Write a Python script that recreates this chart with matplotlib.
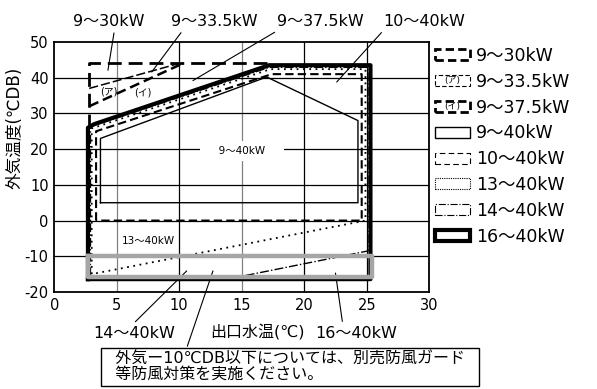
import matplotlib
matplotlib.use('Agg')
import matplotlib.pyplot as plt
from matplotlib.patches import Patch, Rectangle
from matplotlib.legend_handler import HandlerPatch
from matplotlib.text import Text

plt.rcParams['font.family'] = ['DejaVu Sans', 'Noto Sans CJK JP']
plt.rcParams['axes.unicode_minus'] = False

# operating envelopes (outlet water temp, outdoor air temp)
e16_x = [2.7, 2.7, 3.2, 17.2, 25.3, 25.3, 2.7]
e16_y = [-16.4, 26.0, 27.0, 43.5, 43.5, -16.4, -16.4]
e30_x = [2.8, 2.8, 17.0]
e30_y = [26.0, 44.0, 44.0]
ea_x = [2.8, 10.0]          # 9~33.5kW (ア)
ea_y = [37.0, 44.0]
ei_x = [2.8, 10.3]          # 9~37.5kW (イ)
ei_y = [32.0, 44.0]
e9_x = [3.7, 3.7, 17.0, 24.3, 24.3, 3.7]
e9_y = [5.0, 23.0, 40.2, 28.0, 5.0, 5.0]
e10_x = [3.35, 3.35, 17.4, 24.6, 24.6, 3.35]
e10_y = [0.0, 25.0, 41.0, 41.0, 0.0, 0.0]
e13_x = [3.0, 3.0, 17.3, 24.9, 24.9, 3.0]
e13_y = [-15.0, 25.8, 42.4, 42.4, 0.0, -15.0]
e14_x = [2.9, 2.9, 17.2, 25.1, 25.1, 15.0, 2.9]
e14_y = [-15.6, 26.3, 42.9, 42.9, -8.5, -15.6, -15.6]
# -10 deg and below zone
g_x = [2.7, 2.7, 25.4, 25.4, 2.7]
g_y = [-10.0, -15.8, -15.8, -10.0, -10.0]

xticks = [0, 5, 10, 15, 20, 25, 30]
yticks = [-20, -10, 0, 10, 20, 30, 40, 50]
labels = ['9～30kW', '9～33.5kW', '9～37.5kW', '9～40kW',
          '10～40kW', '13～40kW', '14～40kW', '16～40kW']

fig = plt.figure(figsize=(5.97, 3.89), dpi=100)
ax = fig.add_axes([54.2/597, 1-292/389, 375/597, 250/389])
ax.set_xlim(0, 30)
ax.set_ylim(-20, 50)
ax.set_xticks(xticks)
ax.set_yticks(yticks)
ax.tick_params(length=0, labelsize=10.5, pad=4)
for s in ax.spines.values():
    s.set_linewidth(1.3)

for x in xticks[1:-1]:
    ax.axvline(x, color='#808080' if x in (5, 15) else 'k', lw=0.9, zorder=1)
for y in yticks[1:-1]:
    ax.axhline(y, color='k', lw=0.9, zorder=1)

ax.text(15, 19.5, '\u3000 9～40kW \u3000', fontsize=7.5, ha='center', va='center',
        bbox=dict(fc='white', ec='none', boxstyle='square,pad=0.5'), zorder=2)
ax.text(7.5, -5.7, '13～40kW', fontsize=7.5, ha='center', va='center', zorder=2)

ax.plot(e16_x, e16_y, color='k', lw=3.0, zorder=3)
ax.plot(e14_x, e14_y, color='k', lw=1.0, ls='-.', zorder=4)
ax.plot(e13_x, e13_y, color='k', lw=1.3, ls=(0, (1, 2.5)), zorder=4)
ax.plot(e10_x, e10_y, color='k', lw=1.5, ls=(0, (4, 2)), zorder=4)
ax.plot(e9_x, e9_y, color='k', lw=1.0, zorder=4)
ax.plot(e30_x, e30_y, color='k', lw=2.0, ls=(0, (5, 2.5)), zorder=4)
ax.plot(ea_x, ea_y, color='k', lw=1.1, ls=(0, (6, 2)), zorder=4)
ax.plot(ei_x, ei_y, color='k', lw=1.8, ls=(0, (4, 2)), zorder=4)
ax.plot(g_x, g_y, color='#a6a6a6', lw=3.2, zorder=5)
ax.text(4.4, 36.2, '(ア)', fontsize=7, ha='center', va='center')
ax.text(7.1, 35.8, '(イ)', fontsize=7, ha='center', va='center')

ax.set_ylabel('外気温度(℃DB)', fontsize=12)
ax.yaxis.set_label_coords(-0.082, 0.656)
ax.set_xlabel('出口水温(℃)', fontsize=11.5)
ax.xaxis.set_label_coords(0.543, -0.13)

lk = dict(arrowstyle='-', lw=0.8, color='k', shrinkA=1, shrinkB=0)
top = [('9～30kW', 4.38, 4.3, 42.1, 0.58),
       ('9～33.5kW', 12.8, 7.8, 41.6, 0.15),
       ('9～37.5kW', 21.3, 11.1, 39.2, 0.04),
       ('10～40kW', 29.6, 22.6, 38.8, 0.02)]
for t, tx, px, py, rx in top:
    ax.annotate(t, xy=(px, py), xytext=(tx, 55.8), ha='center', va='center',
                fontsize=11.5, annotation_clip=False,
                arrowprops=dict(lk, relpos=(rx, 0)))
bottom = [('14～40kW', 10.6, -14.1, 134, 0.47),
          ('16～40kW', 22.5, -14.7, 356, 0.34)]
for t, px, py, tx, rx in bottom:
    ax.annotate(t, xy=(px, py), xytext=(tx, 389-333), textcoords='figure pixels',
                ha='center', va='center', fontsize=11.5, annotation_clip=False,
                arrowprops=dict(lk, relpos=(rx, 1)))

ax.annotate('  外気ー10℃DB以下については、別売防風ガード  \n  等防風対策を実施ください。',
            xy=(12.7, -14.1), xytext=(105, 389-352), textcoords='figure pixels',
            ha='left', va='top', fontsize=11.5, linespacing=1.0, annotation_clip=False,
            bbox=dict(fc='white', ec='k', lw=1.0, boxstyle='square,pad=0.25'),
            arrowprops=dict(lk, relpos=(0.217, 1)))


class BoxHandler(HandlerPatch):
    def __init__(self, tag=''):
        super().__init__()
        self.tag = tag

    def create_artists(self, legend, orig_handle, xdescent, ydescent,
                       width, height, fontsize, trans):
        r = Rectangle((-xdescent, -ydescent), width, height)
        self.update_prop(r, orig_handle, legend)
        r.set_fill(False)
        r.set_transform(trans)
        out = [r]
        if self.tag:
            out.append(Text(width/2 - xdescent, height/2 - ydescent, self.tag,
                            ha='center', va='center', fontsize=6.5,
                            transform=trans))
        return out


styles = [dict(lw=2.0, ls=(0, (3, 1.5))), dict(lw=0.8, ls=(0, (4, 2))),
          dict(lw=2.0, ls=(0, (3, 1.5))), dict(lw=1.0, ls='-'),
          dict(lw=0.8, ls=(0, (5, 3))), dict(lw=0.8, ls=(0, (1, 1))),
          dict(lw=0.8, ls='-.'), dict(lw=3.0, ls='-')]
tags = ['', '(ア)', '(イ)', '', '', '', '', '']
handles = [Patch(fill=False, edgecolor='k', linewidth=s['lw'], linestyle=s['ls'])
           for s in styles]
hmap = {h: BoxHandler(t) for h, t in zip(handles, tags)}
ax.legend(handles, labels, handler_map=hmap, loc='upper left',
          bbox_to_anchor=(435/597, 1-47/389), bbox_transform=fig.transFigure,
          frameon=False, fontsize=12.5, handlelength=2.0, handleheight=0.6,
          handletextpad=0.35, labelspacing=0.45, borderaxespad=0, borderpad=0)

fig.savefig('out.png', dpi=100)
